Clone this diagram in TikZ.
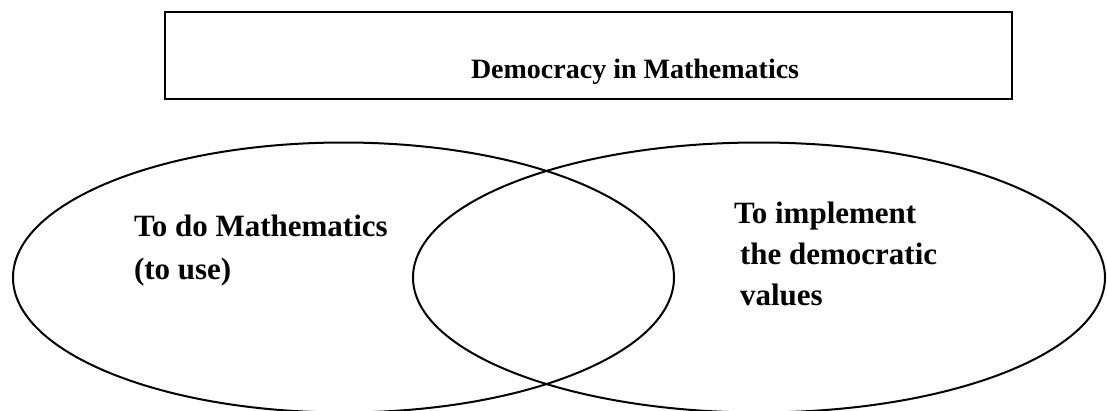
\documentclass[tikz,border=0pt]{standalone}
\usepackage{fontspec}
\setmainfont{Liberation Serif}
\begin{document}
\begin{tikzpicture}[x=1pt,y=-1pt,line width=2pt,
  lbl/.style={font=\fontsize{31}{42}\selectfont\bfseries,inner sep=0pt,anchor=base west},
  frame/.style={draw,line width=2pt,inner sep=0pt}]
\useasboundingbox[fill=white] (0,0) rectangle (1107,410);
\node[frame,minimum width=847pt,minimum height=87pt] (box) at (588.5,55.5) {};
\node[lbl,font=\fontsize{28}{36}\selectfont\bfseries] (title) at (470,78) {Democracy in Mathematics};
\draw (343.5,277.5) ellipse [x radius=330.5,y radius=135];
\draw (759,277.5) ellipse [x radius=346,y radius=135];
\node[lbl] (left1) at (133,236) {To do Mathematics};
\node[lbl] (left2) at (133,279) {(to use)};
\node[lbl] (right1) at (733,223) {To implement};
\node[lbl] (right2) at (739,264) {the democratic};
\node[lbl] (right3) at (739,305) {values};
\end{tikzpicture}
\end{document}
